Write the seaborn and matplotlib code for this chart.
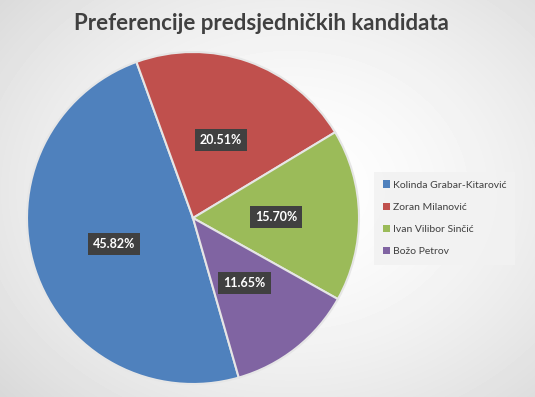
import numpy as np
import matplotlib
matplotlib.use("Agg")
import matplotlib.pyplot as plt
import seaborn as sns
from matplotlib.patches import Patch

# data (labels do not add up to 100, the pie normalises them)
candidates = ["Kolinda Grabar-Kitarović", "Zoran Milanović",
              "Ivan Vilibor Sinčić", "Božo Petrov"]
shares = [45.82, 20.51, 15.70, 11.65]
colors = ["#4F81BD", "#C0504D", "#9BBB59", "#8064A2"]
title = "Preferencije predsjedničkih kandidata"

sns.set_theme(style="white")
plt.rcParams["font.family"] = ["Lato", "DejaVu Sans"]

fig = plt.figure(figsize=(5.35, 3.97), dpi=100)

# radial grey background like the Excel chart area
bg = fig.add_axes([0, 0, 1, 1])
yy, xx = np.mgrid[0:397, 0:535]
d = np.sqrt(((xx - 290) / 420.0) ** 2 + ((yy - 190) / 330.0) ** 2)
shade = 1.0 - 0.17 * np.clip(d, 0, 1) ** 1.6
bg.imshow(shade, cmap="gray", vmin=0, vmax=1, aspect="auto")
bg.axis("off")

ax = fig.add_axes([27 / 535, 13 / 397, 332 / 535, 332 / 397])
wedges, _, autotexts = ax.pie(
    shares, colors=sns.color_palette(colors), startangle=-74,
    counterclock=False, autopct="%1.2f%%", pctdistance=0.5,
    wedgeprops=dict(edgecolor="#e6e6e6", linewidth=1.5))
for t, v in zip(autotexts, shares):
    t.set_text(f"{v:.2f}%")
    t.set_color("white")
    t.set_fontweight("bold")
    t.set_fontsize(9)
    t.set_bbox(dict(boxstyle="square,pad=0.4", facecolor="#404040",
                    edgecolor="none"))
ax.set_xlim(-1, 1)
ax.set_ylim(-1, 1)
ax.axis("off")

fig.text(0.488, 0.942, title, ha="center", va="center", fontsize=16,
         fontweight="bold", color="#404040")

handles = [Patch(facecolor=c, edgecolor="none") for c in colors]
leg = fig.legend(handles, candidates, loc="center left",
                 bbox_to_anchor=(0.69, 0.45), fontsize=7.5, frameon=True,
                 handlelength=0.7, handleheight=0.7, handletextpad=0.3,
                 labelspacing=1.25, borderpad=0.8, fancybox=False,
                 labelcolor="#404040")
leg.get_frame().set_facecolor("#f2f2f2")
leg.get_frame().set_edgecolor("none")
leg.get_frame().set_alpha(0.9)

fig.savefig("out.png", dpi=100)
